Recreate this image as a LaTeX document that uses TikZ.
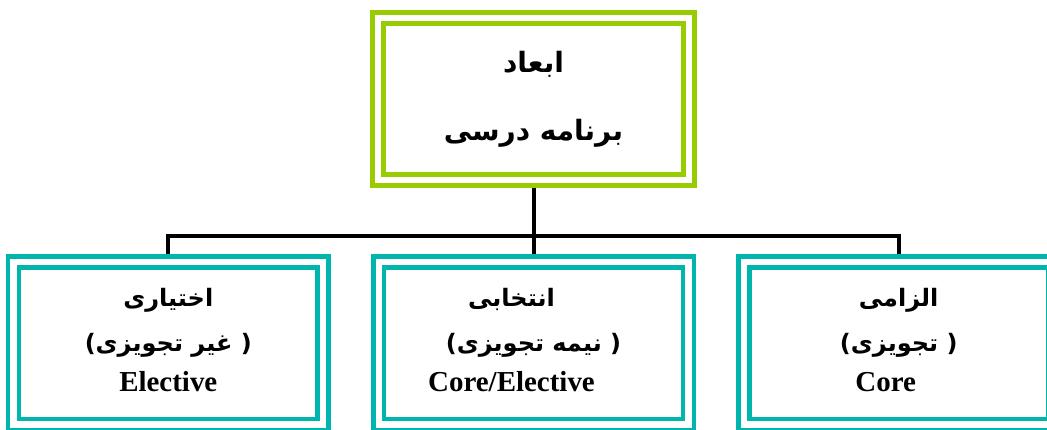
\documentclass[tikz,border=0pt]{standalone}
\usepackage{fontspec}
\setmainfont{Liberation Serif}
\newfontfamily\arabicfont[Script=Arabic]{DejaVu Sans}
\TeXXeTstate=1
\usetikzlibrary{positioning,backgrounds}
\definecolor{limegreen}{RGB}{153,204,0}
\definecolor{tealbox}{RGB}{0,181,173}
\newcommand{\fa}[1]{{\arabicfont\bfseries\beginR #1\endR}}
\newcommand{\faline}[1]{{\fontsize{18}{34}\selectfont\fa{#1}}}

\begin{document}
\begin{tikzpicture}[
    x=0.75pt, y=-0.75pt,
    node distance=38.5pt,
    dimbox/.style={rectangle, draw=limegreen, line width=3.3pt, double=white, double distance=4.9pt, fill=white, minimum width=233.2pt, minimum height=121.5pt, inner sep=0pt, align=center},
    kindbox/.style={dimbox, draw=tealbox, minimum width=232.1pt, minimum height=121.9pt, text depth=5pt, font=\bfseries\fontsize{21.7}{34}\selectfont}
]
\useasboundingbox (0,0) rectangle (1047,429);

\node[dimbox, font=\fontsize{21}{51}\selectfont] (dims) at (533.5,99) {\fa{ابعاد}\\\fa{برنامه درسی}};

\node[kindbox] (semi) at (533.5,343.25) {\faline{انتخابی}\hspace*{33pt}\\\faline{( نیمه تجویزی)}\hspace*{33pt}\\[-4pt]Core/Elective\hspace*{33pt}};
\node[kindbox, left=of semi] (elective) {\faline{اختیاری}\\\faline{( غیر تجویزی)}\\[-4pt]Elective};
\node[kindbox, right=of semi] (core) {\faline{الزامی}\\\faline{( تجویزی)}\\[-4pt]Core\hspace*{19.5pt}};

% Links
\begin{scope}[on background layer]
\coordinate (bar) at (533.5,236);
\draw[line width=3pt] (dims.south) -- (bar);
\draw[line width=3pt] (elective.north) |- (bar) -| (core.north);
\draw[line width=3pt] (bar) -- (semi.north);
\end{scope}
\end{tikzpicture}
\end{document}
